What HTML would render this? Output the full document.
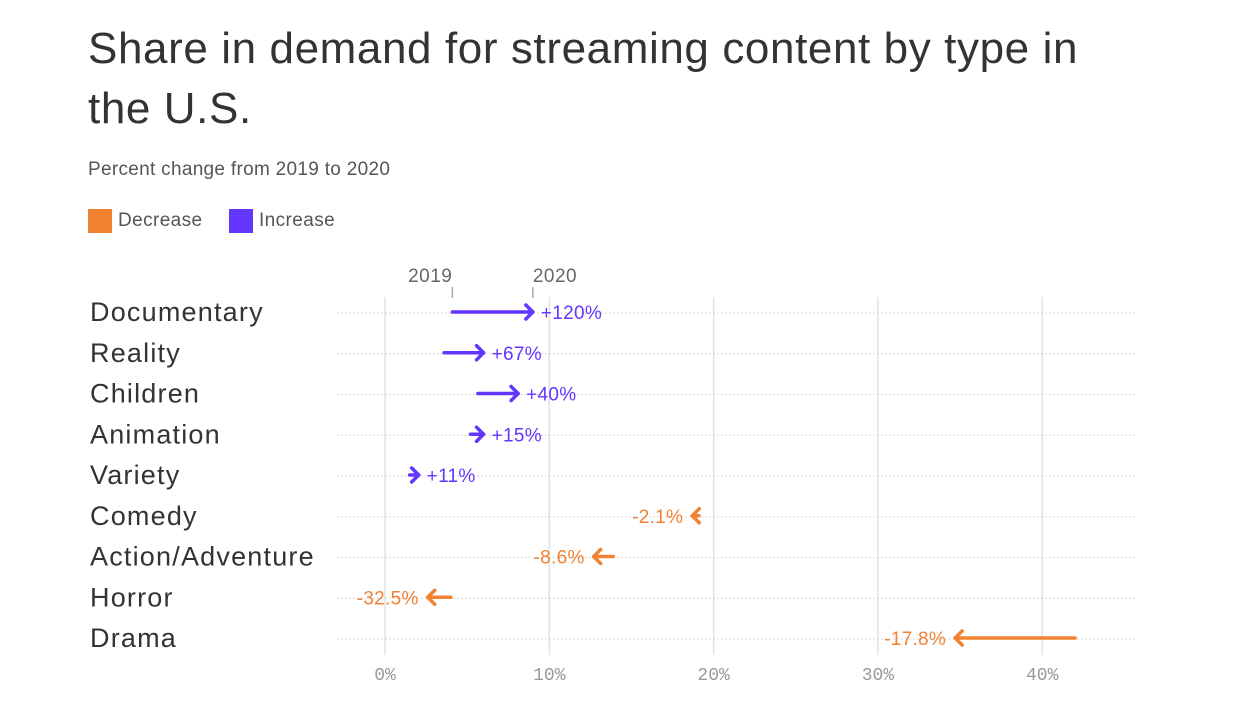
<!DOCTYPE html>
<html><head><meta charset="utf-8">
<style>
body{margin:0;background:#fff;width:1242px;height:715px;overflow:hidden;font-family:"Liberation Sans",sans-serif;}
#title{position:absolute;left:88px;top:19px;width:1050px;font-size:44px;line-height:60px;color:#333;letter-spacing:0.6px;}
#sub{position:absolute;left:88px;top:159px;font-size:19px;color:#555;letter-spacing:0.3px;}
.leg{position:absolute;top:209px;font-size:19px;color:#555;display:flex;align-items:center;letter-spacing:0.4px;}
.sw{width:24px;height:24px;margin-right:6px;display:inline-block;}
svg{position:absolute;left:0;top:0;}
</style></head><body>
<div id="title">Share in demand for streaming content by type in the U.S.</div>
<div id="sub">Percent change from 2019 to 2020</div>
<div class="leg" style="left:88px"><span class="sw" style="background:#f08232"></span>Decrease</div>
<div class="leg" style="left:229px"><span class="sw" style="background:#6236ff"></span>Increase</div>
<svg id="chart" width="1242" height="715"></svg>
<script>
const categories=["Documentary","Reality","Children","Animation","Variety","Comedy","Action/Adventure","Horror","Drama"];
const share2019=[4.1,3.6,5.65,5.2,1.5,19.1,13.9,4.0,42.0];
const share2020=[9.0,6.0,8.1,6.0,2.05,18.7,12.7,2.6,34.7];
const changeLabels=["+120%","+67%","+40%","+15%","+11%","-2.1%","-8.6%","-32.5%","-17.8%"];
const xTicks=[0,10,20,30,40];
const svg=document.getElementById('chart');
const NS='http://www.w3.org/2000/svg';
const x=v=>385+v*16.43;
const y=i=>312+i*40.75;
function mk(t,a){const e=document.createElementNS(NS,t);for(const k in a)e.setAttribute(k,a[k]);svg.appendChild(e);return e;}
xTicks.forEach(t=>{
 const l=mk('line',{x1:x(t),x2:x(t),y1:297,y2:655,stroke:'#e2e2e2','stroke-width':1.5});
 
 
 const tx=mk('text',{x:x(t),y:680,'text-anchor':'middle','font-family':'Liberation Mono, monospace','font-size':18,fill:'#999'});
 tx.textContent=t+'%';
 
 
});
categories.forEach((c,i)=>{
 const d=mk('line',{x1:337,x2:1135,y1:y(i)+1,y2:y(i)+1,stroke:'#ccc','stroke-width':1,'stroke-dasharray':'1.5 2.5'});
 
 
 const lb=mk('text',{x:90,y:y(i)+9,'font-size':27,fill:'#333','letter-spacing':'1.2'});
 lb.textContent=c;
 
 
 const a=x(share2019[i]),b=x(share2020[i]);
 const up=b>a, col=up?'#6236ff':'#f08232', dir=up?1:-1;
 const g=mk('g',{stroke:col,'stroke-width':3.5,fill:'none','stroke-linecap':'round','stroke-linejoin':'round'});
 
 
 const ln=document.createElementNS(NS,'line');
 ln.setAttribute('x1',a);ln.setAttribute('x2',b);ln.setAttribute('y1',y(i));ln.setAttribute('y2',y(i));
 g.appendChild(ln);
 const h=document.createElementNS(NS,'polyline');
 h.setAttribute('points',`${b-dir*7},${y(i)-7} ${b},${y(i)} ${b-dir*7},${y(i)+7}`);
 g.appendChild(h);svg.appendChild(g);
 const vt=mk('text',{x:up?b+8:b-9,y:y(i)+7,'text-anchor':up?'start':'end','font-size':19,fill:col,'letter-spacing':'0.3'});
 vt.textContent=changeLabels[i];
 
 
});
[[share2019[0],'2019','end'],[share2020[0],'2020','start']].forEach(([v,t,anc])=>{
 const tl=mk('line',{x1:x(v),x2:x(v),y1:287,y2:298,stroke:'#aaa','stroke-width':1.5});
 
 
 const tt=mk('text',{x:x(v),y:282,'text-anchor':anc,'font-size':19,fill:'#666','letter-spacing':'0.5'});
 tt.textContent=t;
 
 
});
</script>
</body></html>
